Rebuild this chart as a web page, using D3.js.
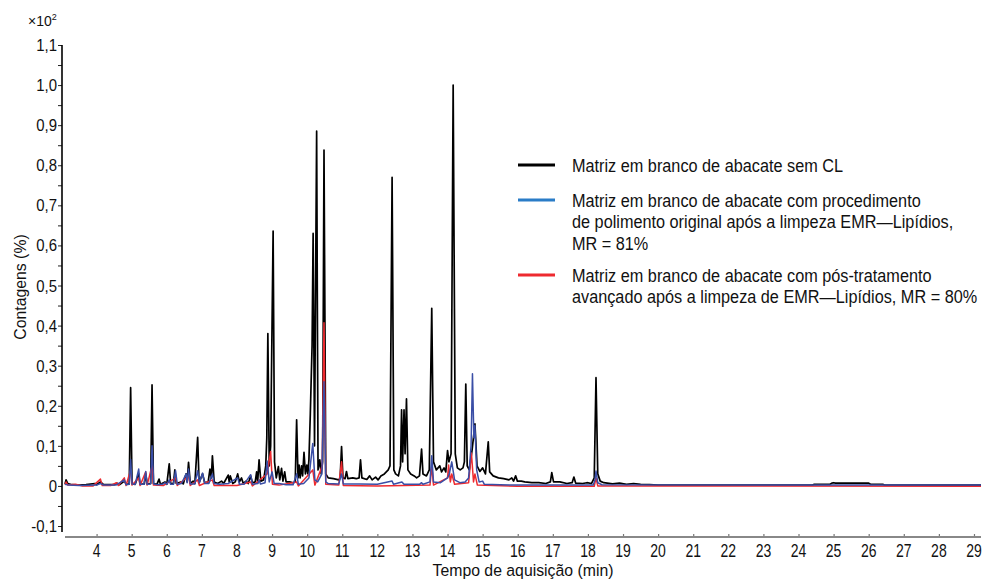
<!DOCTYPE html>
<html>
<head>
<meta charset="utf-8">
<script src="https://cdn.jsdelivr.net/npm/d3@7"></script>
<style>
  body { margin: 0; background: #fff; }
  svg { display: block; }
  text { font-family: "Liberation Sans", Arial, sans-serif; fill: #111; }
</style>
</head>
<body>
<svg width="995" height="579"></svg>
<script>
// chromatogram traces, [time (min), counts (x10^2 %)]
var blackTrace = [
  [3.10,0.005],[3.13,0.015],[3.18,0.006],[3.3,0.003],[3.5,0.002],[3.7,0.003],[3.95,0.006],[4.0,0.003],[4.11,0.01],[4.2,0.003],
  [4.5,0.003],[4.57,0.007],[4.65,0.003],[4.79,0.012],[4.85,0.004],[4.93,0.005],[4.97,0.245],[5.01,0.005],[5.1,0.004],[5.2,0.03],
  [5.24,0.004],[5.36,0.005],[5.4,0.03],[5.44,0.005],[5.54,0.006],[5.58,0.252],[5.62,0.006],[5.72,0.004],[5.78,0.017],[5.82,0.004],
  [5.95,0.01],[6.0,0.004],[6.07,0.055],[6.11,0.006],[6.19,0.006],[6.23,0.04],[6.27,0.006],[6.42,0.01],[6.47,0.005],[6.55,0.03],
  [6.58,0.01],[6.62,0.059],[6.67,0.006],[6.75,0.012],[6.8,0.006],[6.88,0.121],[6.92,0.008],[7.02,0.03],[7.08,0.008],[7.18,0.01],
  [7.23,0.042],[7.27,0.02],[7.3,0.075],[7.35,0.01],[7.45,0.006],[7.56,0.012],[7.62,0.006],[7.75,0.027],[7.78,0.01],[7.81,0.025],
  [7.88,0.006],[7.95,0.01],[8.02,0.03],[8.07,0.01],[8.13,0.02],[8.18,0.006],[8.26,0.012],[8.32,0.006],[8.39,0.025],[8.44,0.008],
  [8.52,0.01],[8.56,0.035],[8.59,0.01],[8.63,0.065],[8.68,0.012],[8.76,0.015],[8.82,0.05],[8.85,0.12],[8.88,0.38],[8.92,0.05],
  [8.96,0.1],[9.03,0.636],[9.07,0.06],[9.12,0.02],[9.18,0.048],[9.22,0.015],[9.27,0.044],[9.31,0.012],[9.36,0.035],[9.4,0.01],
  [9.5,0.01],[9.6,0.008],[9.66,0.01],[9.7,0.165],[9.74,0.02],[9.77,0.052],[9.8,0.02],[9.84,0.05],[9.87,0.025],[9.91,0.084],
  [9.95,0.03],[9.99,0.052],[10.02,0.03],[10.05,0.065],[10.09,0.18],[10.14,0.35],[10.17,0.63],[10.21,0.1],[10.27,0.885],[10.31,0.04],
  [10.36,0.065],[10.4,0.03],[10.44,0.06],[10.48,0.838],[10.53,0.03],[10.6,0.02],[10.75,0.018],[10.9,0.015],[10.94,0.02],[10.98,0.098],
  [11.02,0.02],[11.08,0.018],[11.12,0.036],[11.16,0.018],[11.3,0.02],[11.4,0.018],[11.48,0.02],[11.52,0.065],[11.56,0.02],[11.7,0.016],
  [11.78,0.025],[11.85,0.015],[11.95,0.022],[12.02,0.015],[12.1,0.025],[12.2,0.03],[12.31,0.04],[12.36,0.05],[12.42,0.77],[12.47,0.04],
  [12.52,0.03],[12.6,0.025],[12.66,0.05],[12.69,0.19],[12.72,0.06],[12.76,0.19],[12.79,0.08],[12.83,0.217],[12.87,0.04],[12.95,0.03],
  [13.05,0.025],[13.12,0.02],[13.2,0.025],[13.26,0.092],[13.3,0.03],[13.4,0.025],[13.48,0.04],[13.55,0.443],[13.6,0.06],[13.68,0.04],
  [13.78,0.05],[13.83,0.035],[13.9,0.045],[13.95,0.035],[14.0,0.088],[14.04,0.06],[14.1,0.08],[14.16,1.0],[14.22,0.08],[14.28,0.045],
  [14.36,0.04],[14.44,0.045],[14.48,0.06],[14.52,0.254],[14.56,0.05],[14.62,0.04],[14.7,0.09],[14.78,0.155],[14.84,0.05],[14.92,0.036],
  [15.0,0.045],[15.08,0.03],[15.16,0.11],[15.2,0.035],[15.3,0.025],[15.45,0.02],[15.6,0.018],[15.75,0.015],[15.83,0.02],[15.88,0.012],
  [15.94,0.025],[15.99,0.012],[16.1,0.012],[16.2,0.01],[16.4,0.008],[16.6,0.008],[16.8,0.006],[16.93,0.01],[16.97,0.033],[17.02,0.01],
  [17.2,0.01],[17.4,0.006],[17.55,0.008],[17.6,0.022],[17.65,0.007],[17.85,0.006],[17.97,0.008],[18.1,0.006],[18.18,0.02],[18.23,0.27],
  [18.28,0.03],[18.35,0.012],[18.45,0.008],[18.7,0.005],[18.9,0.007],[19.1,0.004],[19.3,0.006],[19.5,0.004],[19.75,0.003],[20.0,0.002],
  [22.0,0.002],[24.4,0.002],[24.45,0.004],[24.9,0.004],[24.95,0.007],[25.0,0.008],[25.05,0.007],[26.0,0.007],[26.05,0.004],[26.4,0.004],
  [26.45,0.002],[29.2,0.002]
];

var redTrace = [
  [3.1,0.003],[3.13,0.01],[3.18,0.002],[3.4,0.004],[3.6,0.0],[3.9,0.0],[4.11,0.017],[4.16,0.001],[4.4,0.001],[4.57,0.008],
  [4.62,0.001],[4.79,0.02],[4.84,0.001],[4.97,0.04],[5.01,0.002],[5.2,0.02],[5.24,0.001],[5.4,0.035],[5.44,0.002],[5.58,0.05],
  [5.62,0.002],[5.9,0.001],[6.25,0.02],[6.3,0.001],[6.62,0.025],[6.67,0.001],[6.88,0.015],[6.93,0.001],[7.3,0.015],[7.35,0.001],
  [8.0,0.001],[8.39,0.01],[8.44,0.0],[8.86,0.03],[8.96,0.086],[9.01,0.004],[9.2,0.002],[9.7,0.01],[9.75,0.0],[10.16,0.04],
  [10.22,0.002],[10.43,0.05],[10.48,0.407],[10.53,0.004],[10.9,0.002],[10.98,0.06],[11.03,0.001],[12.0,0.0],[13.5,0.002],[13.55,0.05],
  [13.6,0.002],[14.0,0.02],[14.03,0.052],[14.08,0.01],[14.12,0.03],[14.2,0.004],[14.6,0.008],[14.68,0.082],[14.74,0.01],[14.78,0.03],
  [14.85,0.002],[16.0,-0.001],[18.18,-0.001],[18.23,0.02],[18.28,0.0],[29.2,-0.001]
];

var blueTrace = [
  [3.1,0.004],[3.2,0.002],[3.5,0.001],[4.0,0.002],[4.11,0.006],[4.2,0.002],[4.55,0.002],[4.79,0.015],[4.84,0.003],[4.93,0.004],
  [4.97,0.066],[5.01,0.005],[5.1,0.004],[5.2,0.042],[5.24,0.004],[5.35,0.004],[5.4,0.036],[5.44,0.004],[5.54,0.005],[5.58,0.1],
  [5.63,0.005],[5.75,0.003],[5.9,0.005],[5.95,0.008],[6.0,0.004],[6.07,0.015],[6.11,0.004],[6.19,0.004],[6.25,0.038],[6.3,0.004],
  [6.42,0.006],[6.55,0.03],[6.58,0.008],[6.62,0.042],[6.67,0.005],[6.8,0.005],[6.88,0.038],[6.93,0.008],[7.02,0.032],[7.08,0.006],
  [7.2,0.006],[7.3,0.03],[7.35,0.006],[7.5,0.004],[7.75,0.006],[8.02,0.02],[8.07,0.004],[8.2,0.004],[8.39,0.028],[8.44,0.004],
  [8.6,0.006],[8.63,0.015],[8.67,0.005],[8.8,0.008],[8.86,0.062],[8.92,0.01],[9.0,0.035],[9.06,0.006],[9.2,0.006],[9.4,0.003],
  [9.6,0.003],[9.7,0.03],[9.75,0.004],[9.9,0.006],[10.05,0.02],[10.16,0.106],[10.22,0.015],[10.3,0.01],[10.42,0.03],[10.48,0.26],
  [10.53,0.01],[10.6,0.006],[10.9,0.005],[10.98,0.03],[11.03,0.005],[11.5,0.005],[12.0,0.004],[12.42,0.012],[12.46,0.004],[12.7,0.01],
  [12.76,0.004],[13.2,0.004],[13.26,0.008],[13.3,0.004],[13.5,0.01],[13.55,0.075],[13.6,0.01],[13.8,0.008],[14.0,0.02],[14.05,0.03],
  [14.12,0.06],[14.2,0.015],[14.35,0.008],[14.5,0.01],[14.6,0.02],[14.67,0.1],[14.71,0.28],[14.75,0.12],[14.78,0.15],[14.83,0.04],
  [14.9,0.01],[15.0,0.012],[15.05,0.004],[15.5,0.003],[16.0,0.002],[18.15,0.002],[18.2,0.015],[18.23,0.037],[18.28,0.008],[18.4,0.003],
  [29.2,0.002]
];

var xTicks = [4,5,6,7,8,9,10,11,12,13,14,15,16,17,18,19,20,21,22,23,24,25,26,27,28,29];
var yTicks = [-0.1,0,0.1,0.2,0.3,0.4,0.5,0.6,0.7,0.8,0.9,1.0,1.1];

var legendLabels = [
  ["Matriz em branco de abacate sem CL"],
  ["Matriz em branco de abacate com procedimento", "de polimento original após a limpeza EMR\u2014Lipídios,", "MR = 81%"],
  ["Matriz em branco de abacate com pós-tratamento", "avançado após a limpeza de EMR\u2014Lipídios, MR = 80%"]
];
var legendColors = ["#000000", "#2a7cc7", "#ee2a2f"];

var svg = d3.select("svg");

var x = d3.scaleLinear().domain([3.1, 29.2]).range([65, 981]);
var y = d3.scaleLinear().domain([-0.1, 1.1]).range([526, 45]);

function fmt(d) {
  if (Math.abs(d) < 1e-9) return "0";
  return (d < 0 ? "-" : "") + Math.abs(d).toFixed(1).replace(".", ",");
}

// condensed-looking text: regular sans squeezed horizontally
function label(parent, px, py, str, size, sx, anchor, rot) {
  return parent.append("text")
      .attr("transform", "translate(" + px + "," + py + ")" + (rot ? " rotate(" + rot + ")" : "") + " scale(" + sx + ",1)")
      .attr("font-size", size)
      .attr("text-anchor", anchor || "start")
      .text(str);
}

// y axis ticks
var yAxis = svg.append("g")
    .attr("transform", "translate(62,0)")
    .call(d3.axisLeft(y).tickValues(d3.range(-0.1, 1.1001, 0.05)).tickSize(4).tickFormat(""));
yAxis.select(".domain").remove();
yAxis.selectAll("line").attr("stroke", "#222").attr("stroke-width", 1);
svg.append("line")
    .attr("x1", 62).attr("x2", 62)
    .attr("y1", y(1.1)).attr("y2", 532)
    .attr("stroke", "#000").attr("stroke-width", 1.6);
var yLab = svg.append("g");
yTicks.forEach(function (d) {
  label(yLab, 57, y(d) + 6, fmt(d), 17, 0.88, "end");
});

// x axis
var xAxis = svg.append("g")
    .attr("transform", "translate(0,537)")
    .call(d3.axisTop(x).tickValues(xTicks).tickSize(3).tickFormat(""));
xAxis.select(".domain").remove();
xAxis.selectAll("line").attr("stroke", "#777").attr("stroke-width", 1.2);
svg.append("line")
    .attr("x1", 65).attr("x2", 981)
    .attr("y1", 537).attr("y2", 537)
    .attr("stroke", "#888").attr("stroke-width", 2);
var xLab = svg.append("g");
xTicks.forEach(function (d) {
  label(xLab, x(d), 557, String(d), 17.5, 0.8, "middle");
});

// titles
label(svg, 523, 576, "Tempo de aquisição (min)", 17, 0.93, "middle");
label(svg, 26, 287, "Contagens (%)", 17, 0.93, "middle", -90);
var mult = label(svg, 28, 26, "", 14, 1, "start");
mult.append("tspan").text("\u00d710");
mult.append("tspan").attr("dy", -6).attr("font-size", 9).text("2");

// traces
var line = d3.line()
    .x(function (d) { return x(d[0]); })
    .y(function (d) { return y(d[1]); });

var traces = [
  { data: blackTrace, color: "#000000", w: 1.7 },
  { data: redTrace, color: "#ee2a2f", w: 1.5 },
  { data: blueTrace, color: "#3a4ea6", w: 1.5 }
];
svg.append("g").selectAll("path")
    .data(traces)
    .enter().append("path")
    .attr("d", function (d) { return line(d.data); })
    .attr("fill", "none")
    .attr("stroke", function (d) { return d.color; })
    .attr("stroke-width", function (d) { return d.w; })
    .attr("stroke-linejoin", "round");

// legend
var legendY = [165, 200, 275];
var legend = svg.append("g").selectAll("g")
    .data(legendLabels)
    .enter().append("g")
    .attr("transform", function (d, i) { return "translate(518," + legendY[i] + ")"; });
legend.append("line")
    .attr("x1", 0).attr("x2", 37)
    .attr("stroke", function (d, i) { return legendColors[i]; })
    .attr("stroke-width", 3);
legend.each(function (lines) {
  var g = d3.select(this);
  lines.forEach(function (str, j) {
    label(g, 54, 7 + j * 21.3, str, 17.5, 0.93, "start");
  });
});
</script>
</body>
</html>
